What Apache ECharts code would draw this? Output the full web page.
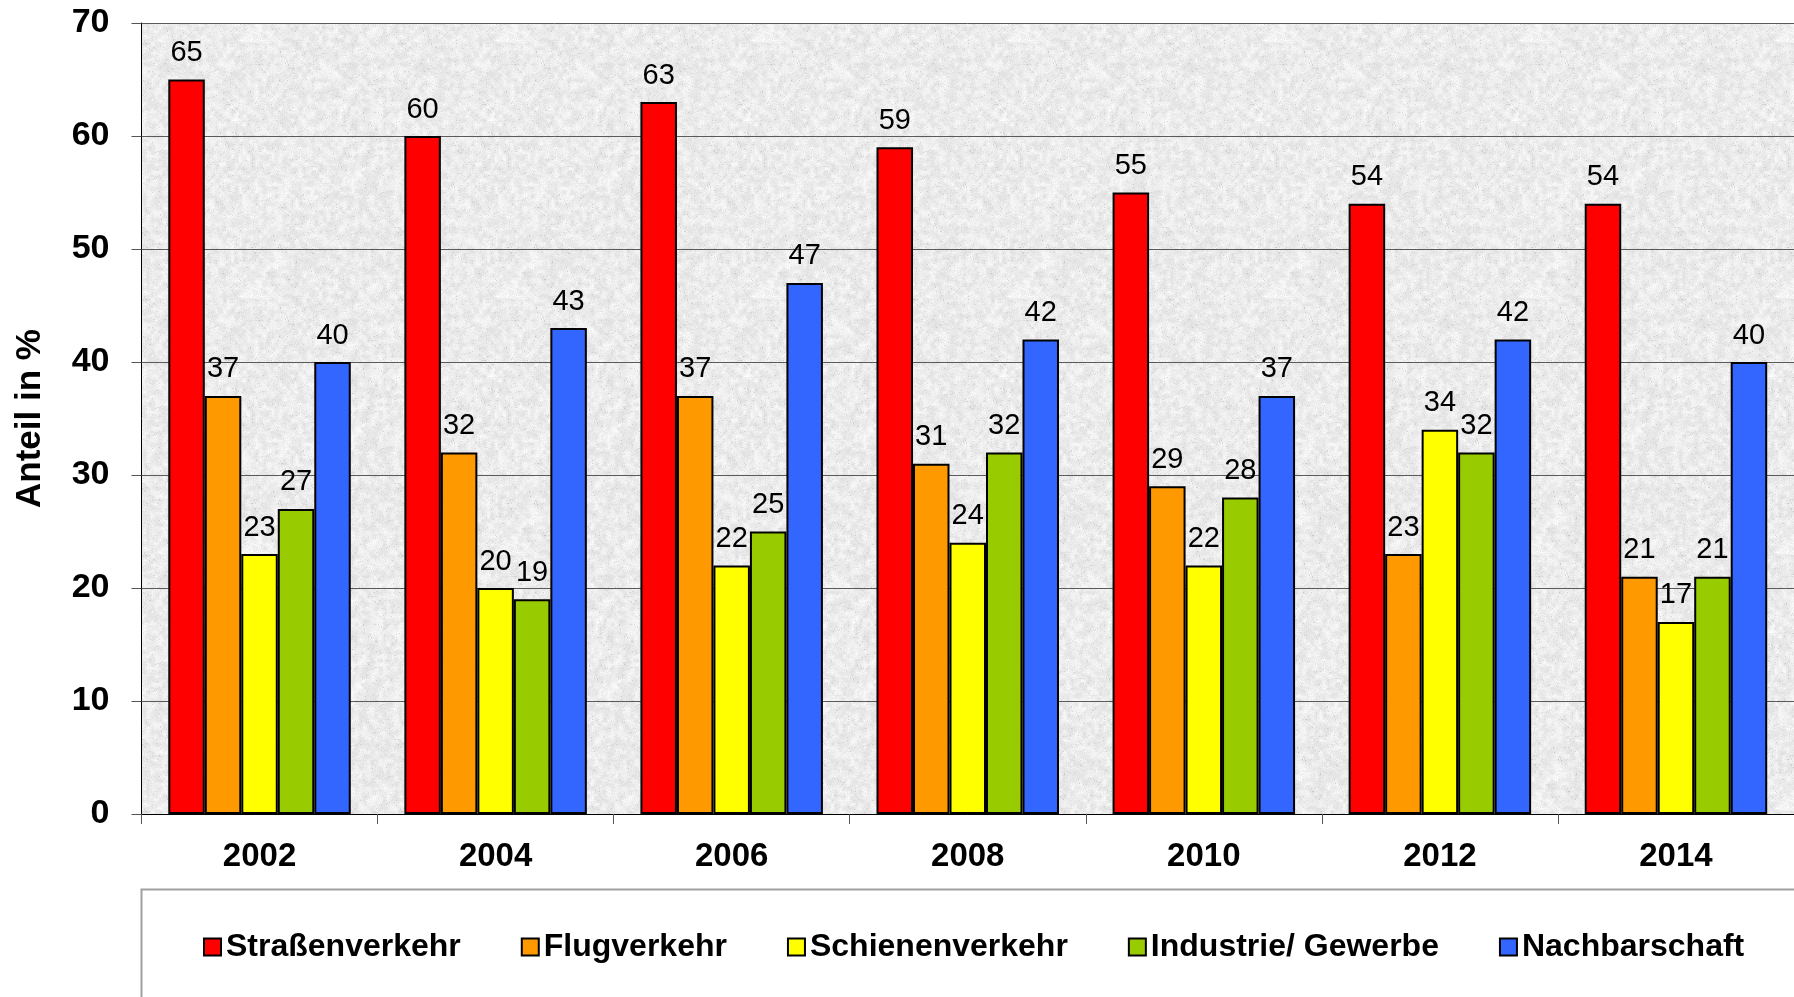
<!DOCTYPE html>
<html>
<head>
<meta charset="utf-8">
<script src="https://cdn.jsdelivr.net/npm/echarts@6/dist/echarts.min.js"></script>
<style>
html,body{margin:0;padding:0;background:#fff;}
#chart{width:1794px;height:997px;}
</style>
</head>
<body>
<div id="chart"></div>
<script>
const categories = ['2002','2004','2006','2008','2010','2012','2014'];
const seriesNames = ['Straßenverkehr','Flugverkehr','Schienenverkehr','Industrie/ Gewerbe','Nachbarschaft'];
const strassenverkehr = [65,60,63,59,55,54,54];
const flugverkehr     = [37,32,37,31,29,23,21];
const schienenverkehr = [23,20,22,24,22,34,17];
const industrie       = [27,19,25,32,28,32,21];
const nachbarschaft   = [40,43,47,42,37,42,40];
const colors = ['#FF0000','#FF9900','#FFFF00','#99CC00','#3366FF'];
const yTicks = [0,10,20,30,40,50,60,70];

// granite-like background texture (deterministic)
function makeTexture(){
  const N = 256;
  const c = document.createElement('canvas');
  c.width = N; c.height = N;
  const ctx = c.getContext('2d');
  const img = ctx.createImageData(N, N);
  let s = 987654;
  function rnd(){ s = (s * 1103515245 + 12345) & 0x7fffffff; return s / 0x7fffffff; }
  const G = 64, cell = N / G;
  const coarse = [];
  for (let i = 0; i < G * G; i++) coarse.push(rnd());
  function cv(x, y){ return coarse[((y % G + G) % G) * G + ((x % G + G) % G)]; }
  for (let y = 0; y < N; y++) {
    for (let x = 0; x < N; x++) {
      const gx = x / cell, gy = y / cell;
      const x0 = Math.floor(gx), y0 = Math.floor(gy);
      const fx = gx - x0, fy = gy - y0;
      const v = cv(x0,y0)*(1-fx)*(1-fy) + cv(x0+1,y0)*fx*(1-fy) + cv(x0,y0+1)*(1-fx)*fy + cv(x0+1,y0+1)*fx*fy;
      let g = 236 + (v - 0.5) * 22 + (rnd() - 0.5) * 14;
      if (rnd() < 0.02) g -= 25;
      g = Math.max(180, Math.min(252, g));
      const k = (y * N + x) * 4;
      img.data[k] = g; img.data[k+1] = g; img.data[k+2] = g; img.data[k+3] = 255;
    }
  }
  ctx.putImageData(img, 0, 0);
  return c;
}

const dataSets = [strassenverkehr, flugverkehr, schienenverkehr, industrie, nachbarschaft];
const FONT = "'Liberation Sans', Arial, sans-serif";

const chart = echarts.init(document.getElementById('chart'), null, {renderer:'canvas'});
chart.setOption({
  animation: false,
  backgroundColor: '#ffffff',
  grid: {
    left: 141.5, right: 0, top: 23, bottom: 183,
    show: true,
    backgroundColor: { image: makeTexture(), repeat: 'repeat' },
    borderWidth: 0
  },
  graphic: [{
    type: 'rect',
    shape: { x: 141.5, y: 889.5, width: 1700, height: 200 },
    style: { fill: 'none', stroke: '#a0a0a0', lineWidth: 2 },
    silent: true
  }],
  legend: {
    data: seriesNames,
    left: 198, top: 926,
    itemWidth: 17, itemHeight: 17,
    itemGap: 60,
    icon: 'rect',
    itemStyle: { borderColor: '#000', borderWidth: 2 },
    textStyle: { fontFamily: FONT, fontWeight: 'bold', fontSize: 32, color: '#000' }
  },
  xAxis: {
    type: 'category',
    data: categories,
    axisLine: { show: true, lineStyle: { color: '#000', width: 1 } },
    axisTick: { show: true, length: 10, lineStyle: { color: '#555', width: 1 } },
    axisLabel: { margin: 26, fontFamily: FONT, fontWeight: 'bold', fontSize: 33, color: '#000' }
  },
  yAxis: {
    type: 'value',
    min: 0, max: 70, interval: 10,
    name: 'Anteil in %',
    nameLocation: 'middle',
    nameGap: 94,
    nameRotate: 90,
    nameTextStyle: { fontFamily: FONT, fontWeight: 'bold', fontSize: 35, color: '#000' },
    axisLine: { show: true, lineStyle: { color: '#000', width: 1 } },
    axisTick: { show: true, length: 10, lineStyle: { color: '#555', width: 1 } },
    axisLabel: { margin: 32, fontFamily: FONT, fontWeight: 'bold', fontSize: 34, color: '#000',
      formatter: function(v){ return yTicks.indexOf(v) >= 0 ? String(v) : ''; } },
    splitLine: { show: true, lineStyle: { color: '#5a5a5a', width: 1 } }
  },
  series: seriesNames.map(function(name, i){
    return {
      name: name,
      type: 'bar',
      data: dataSets[i],
      barGap: '0%',
      barCategoryGap: '22.7%',
      itemStyle: { color: colors[i], borderColor: '#000', borderWidth: 2 },
      label: { show: true, position: 'top', distance: 12, fontFamily: FONT, fontSize: 29, color: '#000' }
    };
  })
});
</script>
</body>
</html>
